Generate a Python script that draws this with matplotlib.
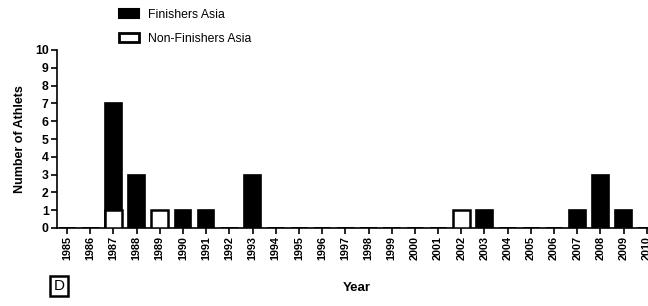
import matplotlib
matplotlib.use("Agg")
import matplotlib.pyplot as plt
from matplotlib.patches import Patch

plt.rcParams['font.family'] = ['Liberation Sans', 'DejaVu Sans']

years = list(range(1985, 2011))
finishers = [0, 0, 7, 3, 0, 1, 1, 0, 3, 0, 0, 0, 0, 0, 0, 0, 0, 0, 1, 0, 0, 0, 1, 3, 1, 0]
non_finishers = [0, 0, 1, 0, 1, 0, 0, 0, 0, 0, 0, 0, 0, 0, 0, 0, 0, 1, 0, 0, 0, 0, 0, 0, 0, 0]
series_labels = ["Finishers Asia", "Non-Finishers Asia"]

fig = plt.figure(figsize=(6.48, 3.06), dpi=100)
ax = fig.add_axes([57/648, 1-228/306, 1-57/648, (228-50)/306])

w = 0.72
ax.bar(years, finishers, width=w, color='black', edgecolor='black', linewidth=1.2, zorder=2)
ax.bar(years, non_finishers, width=w, color='white', edgecolor='black', linewidth=1.8, zorder=3)

ax.set_xlim(1984.57, 2010.05)
ax.set_ylim(0, 10)
ax.set_yticks(range(0, 11))
ax.set_xticks(years)
ax.set_xticklabels([str(y) for y in years], rotation=90, fontweight='bold', fontsize=7.8)
for lab in ax.get_yticklabels():
    lab.set_fontweight('bold')
    lab.set_fontsize(8.8)
ax.spines['top'].set_visible(False)
ax.spines['right'].set_visible(False)
ax.spines['left'].set_linewidth(1.2)
ax.spines['bottom'].set_linewidth(1.2)
ax.tick_params(axis='both', length=4, width=1.2, pad=2)
ax.set_ylabel("Number of Athlets", fontweight='bold', fontsize=9)
ax.yaxis.set_label_coords(-(57-26)/(648-57), 0.5)
ax.set_xlabel("Year", fontweight='bold', fontsize=9.5)
ax.xaxis.set_label_coords((357-57)/(648-57), -(288-228)/178)
ax.xaxis.label.set_va('center')

handles = [Patch(facecolor='black', edgecolor='black', linewidth=1.5),
           Patch(facecolor='white', edgecolor='black', linewidth=2)]
fig.legend(handles, series_labels, loc='upper left', bbox_to_anchor=(108/648, 1 + 2/306),
           frameon=False, fontsize=8.8, handlelength=1.65, handleheight=0.75,
           labelspacing=0.95, handletextpad=0.75)

fig.text(59/648, 1-286/306, "D", fontsize=11, ha='center', va='center',
         bbox=dict(boxstyle='square,pad=0.22', facecolor='white', edgecolor='black', linewidth=1.8))

fig.savefig("out.png", dpi=100)
